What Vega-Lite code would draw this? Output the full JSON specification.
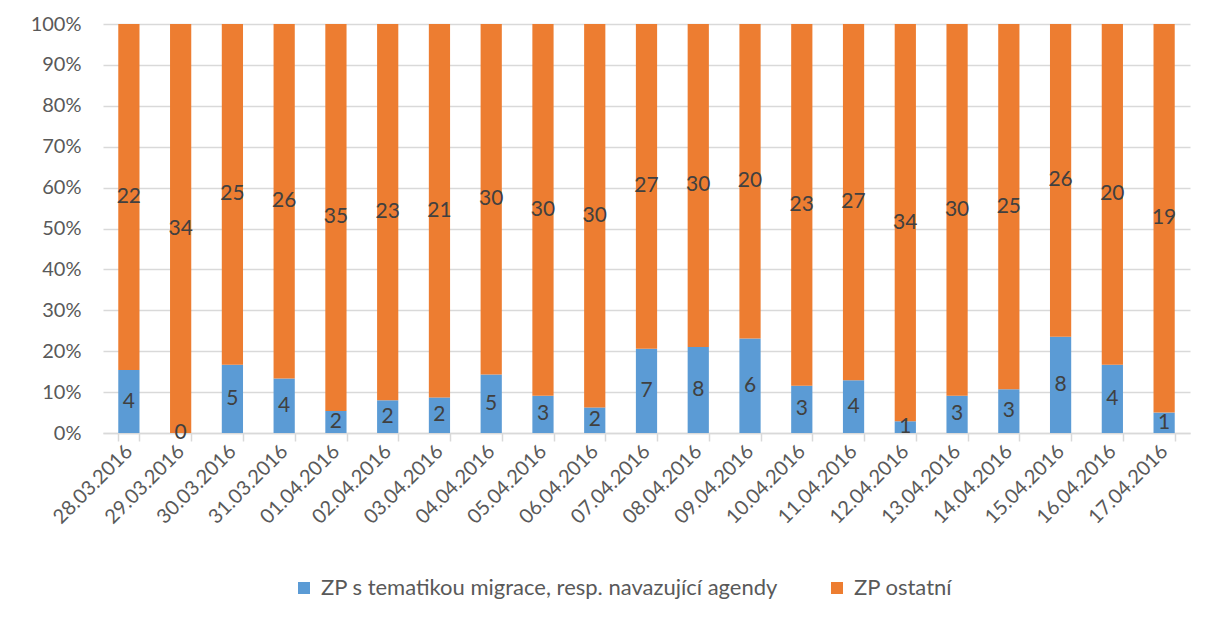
{
  "$schema": "https://vega.github.io/schema/vega-lite/v6.json",
  "width": 1087,
  "height": 409,
  "autosize": {"type": "none"},
  "padding": {"left": 103, "top": 24, "right": 18, "bottom": 184},
  "background": "white",
  "config": {
    "font": "Lato",
    "view": {"stroke": null},
    "axis": {"labelFont": "Lato", "labelColor": "#595959", "labelFontSize": 20, "title": null}
  },
  "datasets": {
    "d": [
      {"date": "28.03.2016", "series": "ZP s tematikou migrace, resp. navazující agendy", "count": 4},
      {"date": "28.03.2016", "series": "ZP ostatní", "count": 22},
      {"date": "29.03.2016", "series": "ZP s tematikou migrace, resp. navazující agendy", "count": 0},
      {"date": "29.03.2016", "series": "ZP ostatní", "count": 34},
      {"date": "30.03.2016", "series": "ZP s tematikou migrace, resp. navazující agendy", "count": 5},
      {"date": "30.03.2016", "series": "ZP ostatní", "count": 25},
      {"date": "31.03.2016", "series": "ZP s tematikou migrace, resp. navazující agendy", "count": 4},
      {"date": "31.03.2016", "series": "ZP ostatní", "count": 26},
      {"date": "01.04.2016", "series": "ZP s tematikou migrace, resp. navazující agendy", "count": 2},
      {"date": "01.04.2016", "series": "ZP ostatní", "count": 35},
      {"date": "02.04.2016", "series": "ZP s tematikou migrace, resp. navazující agendy", "count": 2},
      {"date": "02.04.2016", "series": "ZP ostatní", "count": 23},
      {"date": "03.04.2016", "series": "ZP s tematikou migrace, resp. navazující agendy", "count": 2},
      {"date": "03.04.2016", "series": "ZP ostatní", "count": 21},
      {"date": "04.04.2016", "series": "ZP s tematikou migrace, resp. navazující agendy", "count": 5},
      {"date": "04.04.2016", "series": "ZP ostatní", "count": 30},
      {"date": "05.04.2016", "series": "ZP s tematikou migrace, resp. navazující agendy", "count": 3},
      {"date": "05.04.2016", "series": "ZP ostatní", "count": 30},
      {"date": "06.04.2016", "series": "ZP s tematikou migrace, resp. navazující agendy", "count": 2},
      {"date": "06.04.2016", "series": "ZP ostatní", "count": 30},
      {"date": "07.04.2016", "series": "ZP s tematikou migrace, resp. navazující agendy", "count": 7},
      {"date": "07.04.2016", "series": "ZP ostatní", "count": 27},
      {"date": "08.04.2016", "series": "ZP s tematikou migrace, resp. navazující agendy", "count": 8},
      {"date": "08.04.2016", "series": "ZP ostatní", "count": 30},
      {"date": "09.04.2016", "series": "ZP s tematikou migrace, resp. navazující agendy", "count": 6},
      {"date": "09.04.2016", "series": "ZP ostatní", "count": 20},
      {"date": "10.04.2016", "series": "ZP s tematikou migrace, resp. navazující agendy", "count": 3},
      {"date": "10.04.2016", "series": "ZP ostatní", "count": 23},
      {"date": "11.04.2016", "series": "ZP s tematikou migrace, resp. navazující agendy", "count": 4},
      {"date": "11.04.2016", "series": "ZP ostatní", "count": 27},
      {"date": "12.04.2016", "series": "ZP s tematikou migrace, resp. navazující agendy", "count": 1},
      {"date": "12.04.2016", "series": "ZP ostatní", "count": 34},
      {"date": "13.04.2016", "series": "ZP s tematikou migrace, resp. navazující agendy", "count": 3},
      {"date": "13.04.2016", "series": "ZP ostatní", "count": 30},
      {"date": "14.04.2016", "series": "ZP s tematikou migrace, resp. navazující agendy", "count": 3},
      {"date": "14.04.2016", "series": "ZP ostatní", "count": 25},
      {"date": "15.04.2016", "series": "ZP s tematikou migrace, resp. navazující agendy", "count": 8},
      {"date": "15.04.2016", "series": "ZP ostatní", "count": 26},
      {"date": "16.04.2016", "series": "ZP s tematikou migrace, resp. navazující agendy", "count": 4},
      {"date": "16.04.2016", "series": "ZP ostatní", "count": 20},
      {"date": "17.04.2016", "series": "ZP s tematikou migrace, resp. navazující agendy", "count": 1},
      {"date": "17.04.2016", "series": "ZP ostatní", "count": 19}
    ]
  },
  "data": {"name": "d"},
  "layer": [
    {
      "mark": {"type": "bar"},
      "encoding": {
        "x": {
          "field": "date", "type": "nominal", "sort": null,
          "scale": {"paddingInner": 0.59, "paddingOuter": 0.295},
          "axis": {
            "labelAngle": -45, "labelAlign": "right", "labelBaseline": "middle",
            "labelPadding": 7, "domainColor": "#d9d9d9", "domainWidth": 1.5,
            "tickColor": "#d9d9d9", "tickWidth": 1.5, "tickSize": 8, "tickBand": "extent",
            "grid": false
          }
        },
        "y": {
          "field": "count", "type": "quantitative", "stack": "normalize",
          "scale": {"domain": [0, 1]},
          "axis": {
            "format": ".0%", "values": [0, 0.1, 0.2, 0.3, 0.4, 0.5, 0.6, 0.7, 0.8, 0.9, 1],
            "domain": false, "ticks": false, "labelPadding": 22,
            "gridColor": "#d9d9d9", "gridWidth": 1.5
          }
        },
        "color": {
          "field": "series", "type": "nominal",
          "scale": {
            "domain": ["ZP s tematikou migrace, resp. navazující agendy", "ZP ostatní"],
            "range": ["#5B9BD5", "#ED7D31"]
          },
          "legend": {
            "title": null, "orient": "none", "direction": "horizontal",
            "legendX": 190, "legendY": 553,
            "symbolType": "square", "symbolSize": 144, "symbolStrokeWidth": 0,
            "labelFontSize": 22, "labelColor": "#595959", "labelFont": "Lato",
            "labelLimit": 700, "columnPadding": 48, "symbolOffset": 0, "labelOffset": 6
          }
        },
        "order": {"field": "series", "sort": "descending"}
      }
    },
    {
      "transform": [
        {"stack": "count", "groupby": ["date"], "offset": "normalize",
         "sort": [{"field": "series", "order": "descending"}], "as": ["y0", "y1"]},
        {"fold": ["y0", "y1"], "as": ["k", "v"]}
      ],
      "mark": {"type": "text", "fontSize": 21, "color": "#404040", "baseline": "middle", "align": "center"},
      "encoding": {
        "x": {"field": "date", "type": "nominal", "sort": null},
        "y": {"field": "v", "type": "quantitative", "aggregate": "mean"},
        "text": {"field": "count", "type": "quantitative"},
        "detail": {"field": "series", "type": "nominal"}
      }
    }
  ]
}
